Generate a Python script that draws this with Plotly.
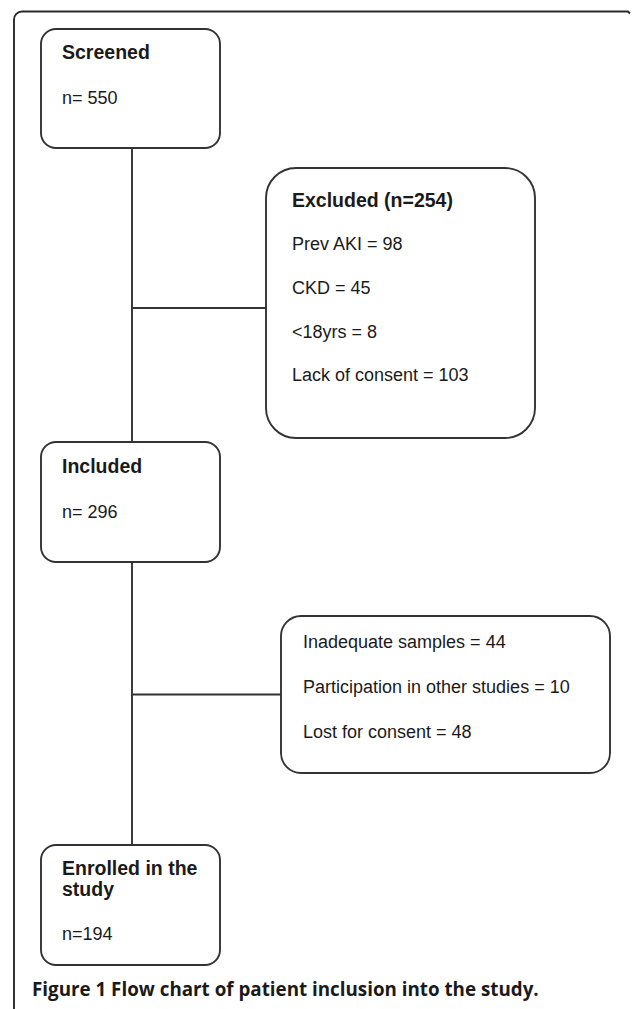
import plotly.graph_objects as go

# ---- data ----
stage_titles = ["Screened", "Included", "Enrolled in the<br>study"]
stage_counts = ["n= 550", "n= 296", "n=194"]
excluded_title = "Excluded (n=254)"
excluded_reasons = ["Prev AKI", "CKD", "&lt;18yrs", "Lack of consent"]
excluded_counts = [98, 45, 8, 103]
dropout_reasons = ["Inadequate samples", "Participation in other studies", "Lost for consent"]
dropout_counts = [44, 10, 48]
caption_label = "Figure 1"
caption_text = "Flow chart of patient inclusion into the study."

# ---- layout (positions in page pixels) ----
W, H = 633, 1009
LINE = "#333333"
FONT = "Liberation Sans, Arial, sans-serif"

stage_boxes = [(41, 29, 220, 148), (41, 442, 220, 562), (41, 845, 220, 965)]
stage_title_y = [[52], [466], [868, 889]]
stage_count_y = [98, 512, 934]
excl_box = (266, 168, 535, 438)
excl_y = [199.5, 244, 288, 332, 375]
drop_box = (281, 616, 610, 773)
drop_y = [642, 687, 732]
spine_x = 132

K = 0.5523


def rrect(x0, y0, x1, y1, r):
    k = r * (1 - K)
    return (f"M {x0+r},{y0} L {x1-r},{y0} C {x1-k},{y0} {x1},{y0+k} {x1},{y0+r} "
            f"L {x1},{y1-r} C {x1},{y1-k} {x1-k},{y1} {x1-r},{y1} "
            f"L {x0+r},{y1} C {x0+k},{y1} {x0},{y1-k} {x0},{y1-r} "
            f"L {x0},{y0+r} C {x0},{y0+k} {x0+k},{y0} {x0+r},{y0} Z")


shapes = []
annotations = []

def line(x0, y0, x1, y1, w=1.9):
    shapes.append(dict(type="line", x0=x0, y0=y0, x1=x1, y1=y1, xref="x", yref="y",
                       line=dict(color=LINE, width=w)))

def text(x, y, s, size=18, bold=False, font=FONT, color="#1a1a1a"):
    annotations.append(dict(x=x, y=y, xref="x", yref="y", xanchor="left", yanchor="middle",
                            text=f"<b>{s}</b>" if bold else s, showarrow=False,
                            font=dict(family=font, size=size, color=color), borderpad=0))

# outer frame (top and left edges)
r = 8
k = r * (1 - K)
shapes.append(dict(type="path", xref="x", yref="y",
                   path=f"M 14,{H} L 14,{11.5+r} C 14,{11.5+k} {14+k},11.5 {14+r},11.5 L 628,11.5 L 630,13.5",
                   line=dict(color="#2a2a2a", width=1.9)))

# connectors
line(spine_x, stage_boxes[0][3], spine_x, stage_boxes[1][1])
line(spine_x, stage_boxes[1][3], spine_x, stage_boxes[2][1])
line(spine_x, (excl_box[1] + excl_box[3]) / 2 + 5, excl_box[0], (excl_box[1] + excl_box[3]) / 2 + 5)
line(spine_x, (drop_box[1] + drop_box[3]) / 2, drop_box[0], (drop_box[1] + drop_box[3]) / 2)

# stage boxes
for (x0, y0, x1, y1), title, cnt, tys, cy in zip(stage_boxes, stage_titles, stage_counts,
                                                stage_title_y, stage_count_y):
    shapes.append(dict(type="path", path=rrect(x0, y0, x1, y1, 15), xref="x", yref="y",
                       fillcolor="white", line=dict(color=LINE, width=1.9)))
    for part, ty in zip(title.split("<br>"), tys):
        text(61, ty, part, size=19.5, bold=True)
    text(61, cy, cnt)

# excluded box
shapes.append(dict(type="path", path=rrect(*excl_box, 30), xref="x", yref="y",
                   fillcolor="white", line=dict(color=LINE, width=1.9)))
text(291, excl_y[0], excluded_title, size=19.5, bold=True)
for name, val, ty in zip(excluded_reasons, excluded_counts, excl_y[1:]):
    text(291, ty, f"{name} = {val}")

# dropout box
shapes.append(dict(type="path", path=rrect(*drop_box, 20), xref="x", yref="y",
                   fillcolor="white", line=dict(color=LINE, width=1.9)))
for name, val, ty in zip(dropout_reasons, dropout_counts, drop_y):
    text(302, ty, f"{name} = {val}")

# caption
annotations.append(dict(x=31, y=989, xref="x", yref="y", xanchor="left", yanchor="middle",
                        showarrow=False, borderpad=0,
                        text=f"<b>{caption_label} {caption_text}</b>",
                        font=dict(family="Open Sans, sans-serif", size=18.8, color="#1a1a1a")))

fig = go.Figure()
fig.update_layout(
    width=W, height=H, autosize=False,
    margin=dict(l=0, r=0, t=0, b=0),
    paper_bgcolor="white", plot_bgcolor="white",
    xaxis=dict(range=[0, W], visible=False, fixedrange=True),
    yaxis=dict(range=[H, 0], visible=False, fixedrange=True),
    shapes=shapes, annotations=annotations, showlegend=False,
)
fig.write_html("out.html", config={"displayModeBar": False, "staticPlot": True},
               post_script="document.body.style.margin='0px';document.body.style.overflow='hidden';")
